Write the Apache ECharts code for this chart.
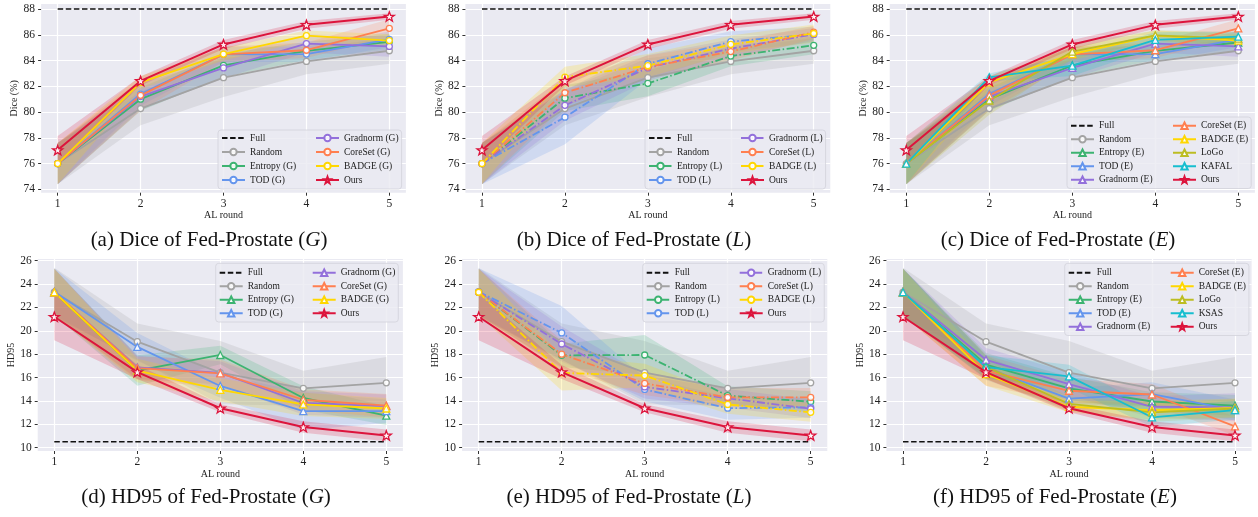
<!DOCTYPE html>
<html><head><meta charset="utf-8">
<script src="https://cdn.jsdelivr.net/npm/echarts@6/dist/echarts.min.js"></script>
<style>html,body{margin:0;padding:0;background:#fff}#c{width:1258px;height:517px}</style>
</head><body><div id="c"></div>
<script>
// ---------------- data ----------------
const rounds = [1, 2, 3, 4, 5];
const diceTicks = [74, 76, 78, 80, 82, 84, 86, 88];
const hdTicks = [10, 12, 14, 16, 18, 20, 22, 24, 26];
const diceFull = 88;
const hdFull = 10.5;

// Dice (%) -- mean values and half-width of the shaded band
const diceRandom = [76.0, 80.27, 82.67, 83.93, 84.76];
const diceRandomBand = [1.6, 1.3, 1.5, 1.0, 1.0];
const diceOurs = [77.05, 82.42, 85.25, 86.77, 87.42];
const diceOursBand = [1.1, 0.35, 0.35, 0.3, 0.25];

const diceEntropyG = [76.0, 81.0, 83.63, 84.75, 85.45];
const diceEntropyGBand = [1.6, 0.9, 0.9, 0.7, 0.6];
const diceTodG = [76.0, 81.4, 84.48, 84.5, 85.65];
const diceTodGBand = [1.6, 0.9, 0.6, 0.6, 0.6];
const diceGradnormG = [76.0, 81.2, 83.43, 85.32, 85.1];
const diceGradnormGBand = [1.6, 1.0, 0.8, 0.7, 0.8];
const diceCoresetG = [76.0, 81.3, 84.48, 84.8, 86.5];
const diceCoresetGBand = [1.6, 1.2, 0.6, 0.6, 0.7];
const diceBadgeG = [76.0, 82.3, 84.5, 85.93, 85.55];
const diceBadgeGBand = [1.6, 0.5, 0.5, 0.4, 0.5];

const diceEntropyL = [76.0, 81.08, 82.23, 84.35, 85.18];
const diceEntropyLBand = [1.6, 1.0, 1.0, 0.8, 0.7];
const diceTodL = [76.0, 79.6, 83.75, 85.47, 86.03];
const diceTodLBand = [1.6, 2.1, 1.2, 0.8, 0.6];
const diceGradnormL = [76.0, 80.52, 83.43, 84.93, 86.03];
const diceGradnormLBand = [1.6, 1.2, 1.0, 0.7, 0.5];
const diceCoresetL = [76.0, 81.5, 83.5, 84.7, 86.2];
const diceCoresetLBand = [1.6, 1.0, 0.9, 0.7, 0.5];
const diceBadgeL = [76.0, 82.72, 83.6, 85.25, 86.1];
const diceBadgeLBand = [1.6, 0.8, 0.9, 0.7, 0.7];

const diceEntropyE = [76.0, 81.0, 83.63, 84.75, 85.4];
const diceEntropyEBand = [1.6, 0.9, 0.9, 0.7, 0.6];
const diceTodE = [76.0, 81.4, 84.48, 84.5, 85.65];
const diceTodEBand = [1.6, 0.9, 0.6, 0.6, 0.6];
const diceGradnormE = [76.0, 81.2, 83.43, 85.32, 85.1];
const diceGradnormEBand = [1.6, 1.0, 0.8, 0.7, 0.8];
const diceCoresetE = [76.0, 81.3, 84.48, 84.8, 86.5];
const diceCoresetEBand = [1.6, 1.2, 0.6, 0.6, 0.7];
const diceBadgeE = [76.0, 82.3, 84.5, 85.93, 85.55];
const diceBadgeEBand = [1.6, 0.5, 0.5, 0.4, 0.5];
const diceLogo = [76.0, 80.9, 84.7, 85.95, 85.7];
const diceLogoBand = [1.6, 1.1, 0.6, 0.4, 0.5];
const diceKafal = [76.0, 82.7, 83.6, 85.6, 85.85];
const diceKafalBand = [1.6, 0.3, 0.8, 0.6, 0.4];

// HD95
const hdRandom = [23.3, 19.07, 16.42, 15.08, 15.55];
const hdRandomBand = [2.1, 1.55, 2.7, 1.5, 2.2];
const hdOurs = [21.2, 16.47, 13.37, 11.77, 11.05];
const hdOursBand = [2.0, 0.6, 0.35, 0.5, 0.5];

const hdEntropyG = [23.3, 16.6, 17.93, 14.25, 12.74];
const hdEntropyGBand = [2.0, 1.3, 0.8, 1.0, 0.8];
const hdTodG = [23.35, 18.62, 15.28, 13.12, 13.12];
const hdTodGBand = [2.0, 1.2, 1.0, 1.6, 1.0];
const hdGradnormG = [23.3, 16.87, 16.4, 13.82, 13.55];
const hdGradnormGBand = [2.0, 1.0, 1.0, 1.0, 1.0];
const hdCoresetG = [23.3, 16.8, 16.35, 14.1, 13.6];
const hdCoresetGBand = [2.0, 1.0, 1.2, 0.9, 1.0];
const hdBadgeG = [23.3, 16.6, 14.95, 13.7, 13.35];
const hdBadgeGBand = [2.0, 1.0, 1.0, 1.0, 0.9];

const hdEntropyL = [23.3, 17.9, 17.93, 14.45, 13.93];
const hdEntropyLBand = [2.0, 1.0, 1.7, 0.8, 0.9];
const hdTodL = [23.35, 19.82, 14.98, 13.38, 13.45];
const hdTodLBand = [2.0, 2.3, 1.0, 1.0, 0.9];
const hdGradnormL = [23.3, 18.87, 15.2, 14.22, 13.33];
const hdGradnormLBand = [2.0, 1.5, 1.0, 0.8, 0.8];
const hdCoresetL = [23.3, 18.0, 15.5, 14.3, 14.3];
const hdCoresetLBand = [2.0, 1.2, 1.0, 0.8, 0.8];
const hdBadgeL = [23.3, 16.4, 16.17, 13.7, 13.02];
const hdBadgeLBand = [2.0, 1.5, 1.0, 0.8, 0.8];

const hdEntropyE = [23.3, 17.1, 15.07, 13.95, 13.6];
const hdEntropyEBand = [2.0, 1.0, 1.0, 0.8, 0.9];
const hdTodE = [23.35, 16.8, 14.19, 14.59, 13.22];
const hdTodEBand = [2.0, 1.0, 0.9, 1.0, 0.9];
const hdGradnormE = [23.3, 17.52, 15.43, 13.5, 13.45];
const hdGradnormEBand = [2.0, 1.0, 1.0, 0.9, 1.2];
const hdCoresetE = [23.3, 16.6, 14.87, 14.55, 11.82];
const hdCoresetEBand = [2.0, 1.3, 1.0, 0.9, 0.8];
const hdBadgeE = [23.3, 16.3, 13.5, 13.2, 13.4];
const hdBadgeEBand = [2.0, 1.0, 0.5, 0.8, 0.8];
const hdLogo = [23.3, 16.9, 13.75, 13.02, 13.35];
const hdLogoBand = [2.0, 1.0, 0.6, 0.8, 0.8];
const hdKsas = [23.3, 16.9, 16.1, 12.6, 13.22];
const hdKsasBand = [2.0, 1.0, 1.0, 0.8, 0.8];

// ---------------- style ----------------
const SERIF = '"Liberation Serif", "DejaVu Serif", serif';
const C = {
  random: '#a3a3a3', entropy: '#3cb371', tod: '#6495ed', gradnorm: '#9370db',
  coreset: '#ff7f50', badge: '#ffd700', logo: '#bcbd22', kafal: '#17becf', ours: '#dc143c'
};
const STAR = 'path://M12,1 L14.9,9 L23.4,9 L16.6,14.1 L19.1,22.4 L12,17.5 L4.9,22.4 L7.4,14.1 L0.6,9 L9.1,9 Z';

const panels = [
  { key: 'a', title: '(a) Dice of Fed-Prostate ({i|G})', tx: 209, ty: 240,
    grid: { left: 41.1, top: 4, width: 364.8, height: 188.7 }, yMin: 73.74, yMax: 88.39,
    yTicks: diceTicks, yName: 'Dice (%)', full: diceFull, xGap: 18,
    legend: { left: 218, top: 130, tw: 65, lh: 14, rows: 4, pt: 1 },
    methods: [
      ['Random', C.random, 'circle', diceRandom, diceRandomBand, false],
      ['Entropy (G)', C.entropy, 'circle', diceEntropyG, diceEntropyGBand, false],
      ['TOD (G)', C.tod, 'circle', diceTodG, diceTodGBand, false],
      ['Gradnorm (G)', C.gradnorm, 'circle', diceGradnormG, diceGradnormGBand, false],
      ['CoreSet (G)', C.coreset, 'circle', diceCoresetG, diceCoresetGBand, false],
      ['BADGE (G)', C.badge, 'circle', diceBadgeG, diceBadgeGBand, false],
      ['Ours', C.ours, 'star', diceOurs, diceOursBand, false]
    ] },
  { key: 'b', title: '(b) Dice of Fed-Prostate ({i|L})', tx: 634, ty: 240,
    grid: { left: 465.4, top: 4, width: 364.9, height: 188.7 }, yMin: 73.74, yMax: 88.39,
    yTicks: diceTicks, yName: 'Dice (%)', full: diceFull, xGap: 18,
    legend: { left: 645, top: 130, tw: 63, lh: 14, rows: 4, pt: 1 },
    methods: [
      ['Random', C.random, 'circle', diceRandom, diceRandomBand, false],
      ['Entropy (L)', C.entropy, 'circle', diceEntropyL, diceEntropyLBand, true],
      ['TOD (L)', C.tod, 'circle', diceTodL, diceTodLBand, true],
      ['Gradnorm (L)', C.gradnorm, 'circle', diceGradnormL, diceGradnormLBand, true],
      ['CoreSet (L)', C.coreset, 'circle', diceCoresetL, diceCoresetLBand, true],
      ['BADGE (L)', C.badge, 'circle', diceBadgeL, diceBadgeLBand, true],
      ['Ours', C.ours, 'star', diceOurs, diceOursBand, false]
    ] },
  { key: 'c', title: '(c) Dice of Fed-Prostate ({i|E})', tx: 1058, ty: 240,
    grid: { left: 889.7, top: 4, width: 365.2, height: 188.7 }, yMin: 73.74, yMax: 88.39,
    yTicks: diceTicks, yName: 'Dice (%)', full: diceFull, xGap: 18,
    legend: { left: 1067, top: 117, tw: 73, lh: 13.5, rows: 5, pt: 2 },
    methods: [
      ['Random', C.random, 'circle', diceRandom, diceRandomBand, false],
      ['Entropy (E)', C.entropy, 'triangle', diceEntropyE, diceEntropyEBand, false],
      ['TOD (E)', C.tod, 'triangle', diceTodE, diceTodEBand, false],
      ['Gradnorm (E)', C.gradnorm, 'triangle', diceGradnormE, diceGradnormEBand, false],
      ['CoreSet (E)', C.coreset, 'triangle', diceCoresetE, diceCoresetEBand, false],
      ['BADGE (E)', C.badge, 'triangle', diceBadgeE, diceBadgeEBand, false],
      ['LoGo', C.logo, 'triangle', diceLogo, diceLogoBand, false],
      ['KAFAL', C.kafal, 'triangle', diceKafal, diceKafalBand, false],
      ['Ours', C.ours, 'star', diceOurs, diceOursBand, false]
    ] },
  { key: 'd', title: '(d) HD95 of Fed-Prostate ({i|G})', tx: 206, ty: 497,
    grid: { left: 37.7, top: 259, width: 365.2, height: 192 }, yMin: 9.715, yMax: 26.143,
    yTicks: hdTicks, yName: 'HD95', full: hdFull, xGap: 17,
    legend: { left: 215.7, top: 263.3, tw: 64, lh: 13.5, rows: 4, pt: 2.7 },
    methods: [
      ['Random', C.random, 'circle', hdRandom, hdRandomBand, false],
      ['Entropy (G)', C.entropy, 'triangle', hdEntropyG, hdEntropyGBand, false],
      ['TOD (G)', C.tod, 'triangle', hdTodG, hdTodGBand, false],
      ['Gradnorm (G)', C.gradnorm, 'triangle', hdGradnormG, hdGradnormGBand, false],
      ['CoreSet (G)', C.coreset, 'triangle', hdCoresetG, hdCoresetGBand, false],
      ['BADGE (G)', C.badge, 'triangle', hdBadgeG, hdBadgeGBand, false],
      ['Ours', C.ours, 'star', hdOurs, hdOursBand, false]
    ] },
  { key: 'e', title: '(e) HD95 of Fed-Prostate ({i|L})', tx: 629, ty: 497,
    grid: { left: 462.1, top: 259, width: 365.2, height: 192 }, yMin: 9.715, yMax: 26.143,
    yTicks: hdTicks, yName: 'HD95', full: hdFull, xGap: 17,
    legend: { left: 642.7, top: 263.3, tw: 64, lh: 13.5, rows: 4, pt: 2.7 },
    methods: [
      ['Random', C.random, 'circle', hdRandom, hdRandomBand, false],
      ['Entropy (L)', C.entropy, 'circle', hdEntropyL, hdEntropyLBand, true],
      ['TOD (L)', C.tod, 'circle', hdTodL, hdTodLBand, true],
      ['Gradnorm (L)', C.gradnorm, 'circle', hdGradnormL, hdGradnormLBand, true],
      ['CoreSet (L)', C.coreset, 'circle', hdCoresetL, hdCoresetLBand, true],
      ['BADGE (L)', C.badge, 'circle', hdBadgeL, hdBadgeLBand, true],
      ['Ours', C.ours, 'star', hdOurs, hdOursBand, false]
    ] },
  { key: 'f', title: '(f) HD95 of Fed-Prostate ({i|E})', tx: 1055, ty: 497,
    grid: { left: 886.4, top: 259, width: 365.2, height: 192 }, yMin: 9.715, yMax: 26.143,
    yTicks: hdTicks, yName: 'HD95', full: hdFull, xGap: 17,
    legend: { left: 1064.7, top: 263.3, tw: 73, lh: 13.5, rows: 5, pt: 2.7 },
    methods: [
      ['Random', C.random, 'circle', hdRandom, hdRandomBand, false],
      ['Entropy (E)', C.entropy, 'triangle', hdEntropyE, hdEntropyEBand, false],
      ['TOD (E)', C.tod, 'triangle', hdTodE, hdTodEBand, false],
      ['Gradnorm (E)', C.gradnorm, 'triangle', hdGradnormE, hdGradnormEBand, false],
      ['CoreSet (E)', C.coreset, 'triangle', hdCoresetE, hdCoresetEBand, false],
      ['BADGE (E)', C.badge, 'triangle', hdBadgeE, hdBadgeEBand, false],
      ['LoGo', C.logo, 'triangle', hdLogo, hdLogoBand, false],
      ['KSAS', C.kafal, 'triangle', hdKsas, hdKsasBand, false],
      ['Ours', C.ours, 'star', hdOurs, hdOursBand, false]
    ] }
];

// ---------------- build option ----------------
const grids = [], xAxes = [], yAxes = [], series = [], legends = [], graphics = [];
const tickColor = '#333';

panels.forEach((p, i) => {
  grids.push(Object.assign({ show: true, backgroundColor: '#eaeaf2', borderWidth: 0, containLabel: false }, p.grid));
  xAxes.push({
    gridIndex: i, type: 'value', min: 0.8, max: 5.2,
    name: 'AL round', nameLocation: 'middle', nameGap: p.xGap,
    nameTextStyle: { fontFamily: SERIF, fontSize: 10, color: '#222' },
    axisLine: { show: false },
    axisTick: { show: true, length: 3, customValues: rounds, lineStyle: { color: tickColor, width: 1 } },
    axisLabel: { customValues: rounds, fontFamily: SERIF, fontSize: 11.5, color: '#222', margin: 5 },
    splitLine: { show: true, lineStyle: { color: '#ffffff', width: 1.2 } }
  });
  yAxes.push({
    gridIndex: i, type: 'value', min: p.yMin, max: p.yMax,
    name: p.yName, nameLocation: 'middle', nameGap: 18, nameRotate: 90,
    nameTextStyle: { fontFamily: SERIF, fontSize: 10, color: '#222' },
    axisLine: { show: false },
    axisTick: { show: true, length: 3, customValues: p.yTicks, lineStyle: { color: tickColor, width: 1 } },
    axisLabel: { customValues: p.yTicks, fontFamily: SERIF, fontSize: 11.5, color: '#222', margin: 6 },
    splitLine: { show: true, lineStyle: { color: '#ffffff', width: 1.2 } }
  });

  // shaded bands
  p.methods.forEach(m => {
    const [label, color, , vals, band] = m;
    const lo = vals.map((v, k) => v - band[k]);
    const hi = vals.map((v, k) => v + band[k]);
    series.push({
      type: 'custom', name: label + ' band#' + p.key, xAxisIndex: i, yAxisIndex: i,
      silent: true, z: 1,
      data: rounds.map((r, k) => [r, lo[k], hi[k]]),
      encode: { x: 0, y: [1, 2] },
      renderItem: (params, api) => {
        if (params.dataIndex !== 0) return null;
        const pts = [];
        for (let k = 0; k < rounds.length; k++) pts.push(api.coord([rounds[k], lo[k]]));
        for (let k = rounds.length - 1; k >= 0; k--) pts.push(api.coord([rounds[k], hi[k]]));
        return { type: 'polygon', shape: { points: pts }, style: { fill: color, opacity: label === 'Random' ? 0.22 : 0.2 } };
      }
    });
  });

  // Full reference line
  series.push({
    type: 'line', name: 'Full#' + p.key, xAxisIndex: i, yAxisIndex: i, z: 3,
    data: [[rounds[0], p.full], [rounds[rounds.length - 1], p.full]],
    symbol: 'none', silent: true,
    itemStyle: { color: '#111' },
    lineStyle: { color: '#111', width: 1.5, type: [5.5, 2.6] }
  });

  // method lines
  p.methods.forEach(m => {
    const [label, color, sym, vals, , dashed] = m;
    const isOurs = label === 'Ours';
    series.push({
      type: 'line', name: label + '#' + p.key, xAxisIndex: i, yAxisIndex: i,
      z: isOurs ? 5 : 4, silent: true,
      data: rounds.map((r, k) => [r, vals[k]]),
      symbol: sym === 'star' ? STAR : sym,
      symbolKeepAspect: true,
      symbolSize: sym === 'star' ? 10 : (sym === 'triangle' ? 7 : 6),
      showAllSymbol: true,
      itemStyle: { color: 'rgba(255,255,255,0.9)', borderColor: color, borderWidth: 1.3 },
      lineStyle: { color: color, width: isOurs ? 2 : 1.8, type: dashed ? [8, 2.5, 1.5, 2.5] : 'solid' }
    });
  });

  const L = p.legend;
  const names = ['Full#' + p.key].concat(p.methods.map(m => m[0] + '#' + p.key));
  legends.push({
    type: 'plain', orient: 'vertical', left: L.left, top: L.top,
    height: L.rows * L.lh + 1, itemGap: 0, itemWidth: 23, itemHeight: 8,
    padding: [L.pt, 3, 2, 3], z: 10,
    backgroundColor: 'rgba(234,234,242,0.82)', borderColor: '#d2d2da', borderWidth: 0.8, borderRadius: 3,
    selectedMode: false,
    data: names.map((n, k) => {
      const item = { name: n };
      if (k < L.rows) item.textStyle = { width: L.tw };
      if (k === 0) item.itemStyle = { opacity: 0 };
      return item;
    }),
    formatter: n => n.split('#')[0],
    textStyle: { fontFamily: SERIF, fontSize: 9.5, color: '#222', lineHeight: L.lh }
  });

  graphics.push({
    type: 'text', x: p.tx, y: p.ty,
    style: {
      text: p.title, fontFamily: SERIF, fontSize: 21, fill: '#111',
      textAlign: 'center', textVerticalAlign: 'middle', align: 'center', verticalAlign: 'middle',
      rich: { i: { fontFamily: SERIF, fontSize: 21, fontStyle: 'italic', fill: '#111' } }
    }
  });
});

const chart = echarts.init(document.getElementById('c'), null, { renderer: 'canvas' });
chart.setOption({
  animation: false,
  backgroundColor: '#ffffff',
  grid: grids, xAxis: xAxes, yAxis: yAxes,
  legend: legends, series: series, graphic: graphics
});
</script>
</body></html>
